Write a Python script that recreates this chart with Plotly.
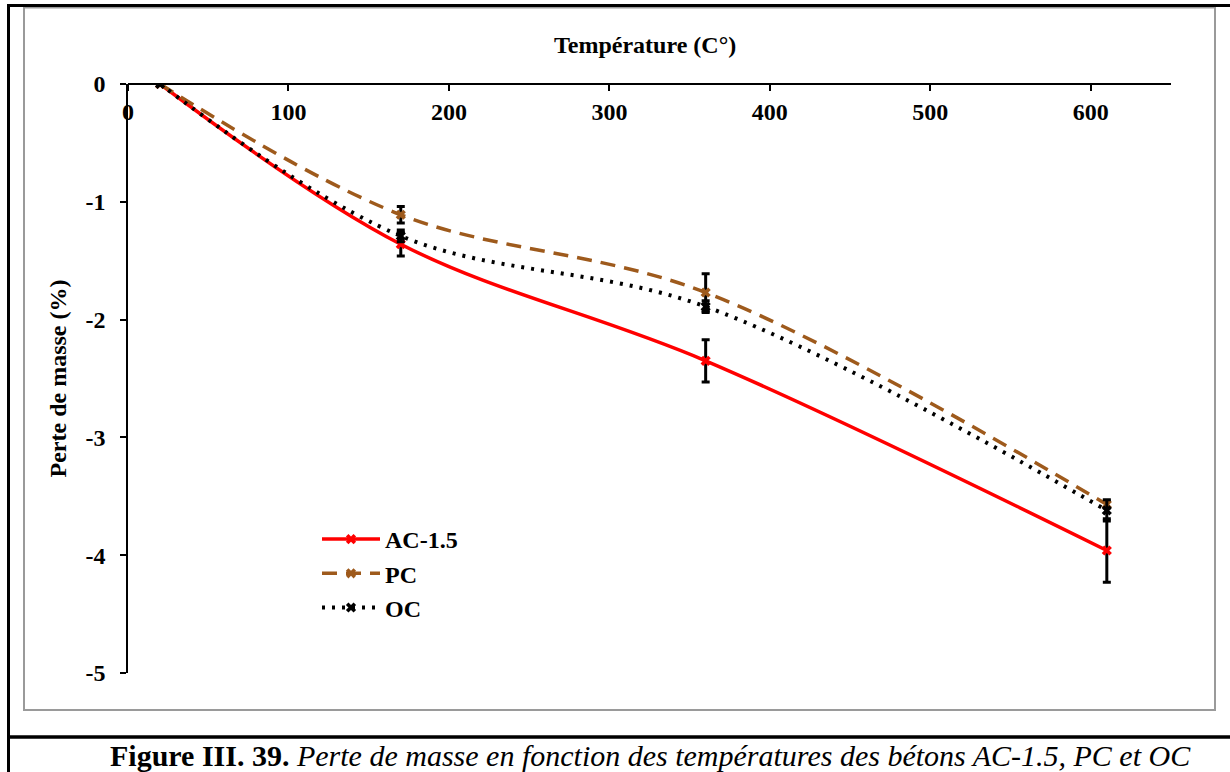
import plotly.graph_objects as go

# ---- data ----
temperature = [20, 170, 360, 610]
ac15 = [0.0, -1.36, -2.35, -3.96]
ac15_err = [0.0, 0.10, 0.18, 0.27]
pc = [0.0, -1.11, -1.77, -3.57]
pc_err = [0.0, 0.07, 0.16, 0.03]
oc = [0.0, -1.29, -1.89, -3.62]
oc_err = [0.0, 0.05, 0.05, 0.09]
x_ticks = [0, 100, 200, 300, 400, 500, 600]
y_ticks = [0, -1, -2, -3, -4, -5]

FONT = "Liberation Serif"
W, H = 1230, 772
L, R, T, B = 128, 1171, 84, 673  # plot area in pixels


def px(xp):
    return (xp - L) / (R - L)


def py(yp):
    return (B - yp) / (B - T)


fig = go.Figure()


def add_series(name, y, err, color, dash, width):
    fig.add_trace(go.Scatter(
        x=temperature, y=y, name=f"<b>{name}</b>", mode="lines+markers",
        line=dict(color=color, width=width, dash=dash, shape="spline", smoothing=1),
        marker=dict(symbol="x", size=9, color=color),
        error_y=dict(type="data", array=err, visible=True, color="black",
                     thickness=3, width=4),
    ))


add_series("AC-1.5", ac15, ac15_err, "#FF0000", "solid", 3.5)
add_series("PC", pc, pc_err, "#9E5A1C", "15px,9px", 3.5)
add_series("OC", oc, oc_err, "#000000", "3px,7px", 4)

fig.update_layout(
    width=W, height=H,
    margin=dict(l=L, r=W - R, t=T, b=H - B, pad=0),
    paper_bgcolor="white", plot_bgcolor="white",
    font=dict(family=FONT, size=24, color="black"),
    showlegend=True,
    legend=dict(x=px(317), y=py(517), xanchor="left", yanchor="top",
                bgcolor="rgba(0,0,0,0)", font=dict(family=FONT, size=24),
                tracegroupgap=0, itemwidth=58),
    xaxis=dict(
        range=[0, 650], tickvals=x_ticks, ticktext=[f"<b>{v}</b>" for v in x_ticks],
        anchor="free", position=1, side="bottom",
        showline=True, linecolor="black", linewidth=1.5,
        ticks="outside", ticklen=6, tickcolor="black", tickwidth=1.5,
        showgrid=False, zeroline=False,
        tickfont=dict(family=FONT, size=24),
    ),
    yaxis=dict(
        range=[-5, 0], tickvals=y_ticks, ticktext=[f"<b>{v}</b>" for v in y_ticks],
        showline=True, linecolor="black", linewidth=1.5,
        ticks="outside", ticklen=6, tickcolor="black", tickwidth=1.5,
        showgrid=False, zeroline=False,
        tickfont=dict(family=FONT, size=24),
        ticklabelstandoff=10,
        title=dict(text="<b>Perte de masse (%)</b>", font=dict(family=FONT, size=24),
                   standoff=12),
    ),
)

# x-axis title (top)
fig.add_annotation(text="<b>Température (C°)</b>", xref="paper", yref="paper",
                   x=px(645), y=py(45), showarrow=False, xanchor="center", yanchor="middle",
                   font=dict(family=FONT, size=24, color="black"))

# caption
fig.add_annotation(text="<b>Figure III. 39.</b> <i>Perte de masse en fonction des températures des bétons AC-1.5, PC et OC</i>",
                   xref="paper", yref="paper", x=px(650), y=py(755), showarrow=False,
                   xanchor="center", yanchor="middle",
                   font=dict(family=FONT, size=30, color="black"))

# frames
shapes = [
    dict(type="rect", x0=px(24), x1=px(1215), y0=py(7.5), y1=py(710),
         line=dict(color="#9A9A9A", width=2)),
    dict(type="line", x0=px(8.5), x1=px(8.5), y0=py(4), y1=py(775),
         line=dict(color="black", width=3)),
    dict(type="line", x0=px(7), x1=px(1235), y0=py(5.5), y1=py(5.5),
         line=dict(color="black", width=3)),
    dict(type="line", x0=px(7), x1=px(1235), y0=py(737), y1=py(737),
         line=dict(color="black", width=3.5)),
]
for s in shapes:
    s.update(xref="paper", yref="paper", layer="above")
    fig.add_shape(**s)

fig.write_html("out.html", config={"displayModeBar": False},
               post_script="document.body.style.margin='0';")
